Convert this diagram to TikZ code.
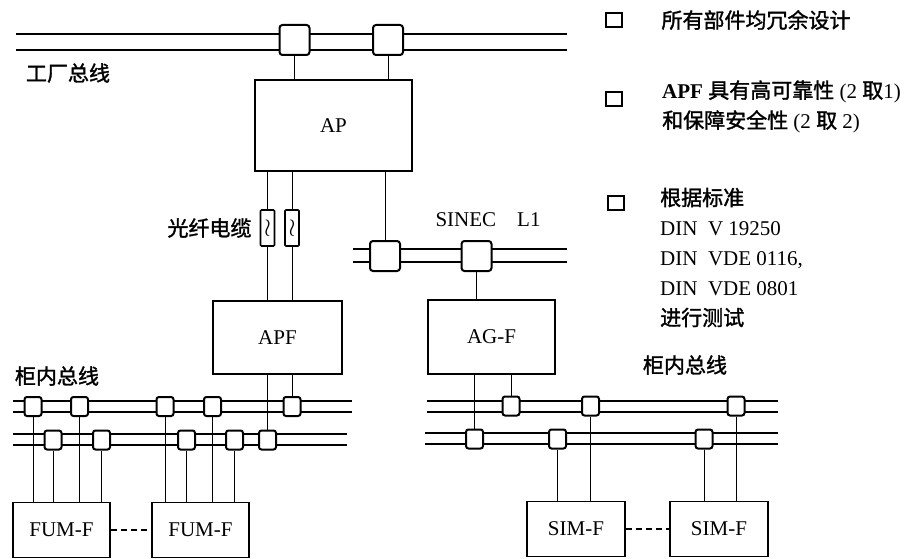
\documentclass[tikz,border=0pt]{standalone}
\usepackage{fontspec}
\setmainfont{Liberation Serif}
\newfontfamily\cjk[AutoFakeBold=1.5]{Noto Sans CJK SC}
\usepackage{xcolor}
\usepackage{tikz}
\usetikzlibrary{positioning,backgrounds,calc}
\newcommand{\zh}[1]{{\cjk\bfseries #1}}

\begin{document}
\begin{tikzpicture}[
  x=1pt, y=-1pt,
  every node/.style={font=\fontsize{21}{25}\selectfont, inner sep=0pt},
  unit/.style={draw, line width=1.7pt, fill=white, minimum width=97pt, minimum height=55pt, align=center},
  coupler/.style={draw, line width=2pt, fill=white, rounded corners=3pt, minimum width=30pt, minimum height=30pt},
  tap/.style={draw, line width=2pt, fill=white, rounded corners=2.5pt, minimum width=17pt, minimum height=19pt},
  fibre/.style={draw, line width=1.6pt, fill=white, rounded corners=1pt, minimum width=14pt, minimum height=36pt, font=\fontsize{24}{24}\selectfont},
  checkbox/.style={draw, line width=2.6pt, minimum width=16pt, minimum height=14pt},
  note/.style={anchor=west, align=left, font=\fontsize{21}{30}\selectfont},
  bus/.style={line width=2pt},
  link/.style={line width=1pt},
  dashlink/.style={line width=1.2pt, dash pattern=on 6pt off 4pt}
]
\useasboundingbox (0,0) rectangle (919,559);

\coordinate (pb-w) at (16,42);
\coordinate (pb-e) at (567,42);
\coordinate (sn-w) at (353,255.5);
\coordinate (sn-e) at (567,255.5);
\coordinate (lu-w) at (13,406.5);
\coordinate (lu-e) at (352,406.5);
\coordinate (ll-w) at (13,439.5);
\coordinate (ll-e) at (347,439.5);
\coordinate (ru-w) at (427,406.5);
\coordinate (ru-e) at (778,406.5);
\coordinate (rl-w) at (425,438.5);
\coordinate (rl-e) at (778,438.5);

\node[coupler] (pb1) at (294.5,40) {};
\node[coupler] (pb2) at (388,40) {};
\node (plantlbl) at (68,73) {\zh{工厂总线}};

\node[unit, minimum width=157pt, minimum height=91pt] (ap) at (333.5,125.5) {AP};
\node[fibre] (f1) at (267.5,228) {$\wr$};
\node[fibre] (f2) at (292,228) {$\wr$};
\node[left=8pt of f1] (fibrelbl) {\zh{光纤电缆}};
\node[unit, minimum width=129pt, minimum height=73pt] (apf) at (277.5,337.5) {APF};

\node[coupler] (sn1) at (385,256) {};
\node[coupler] (sn2) at (476.5,256) {};
\node (sineclbl) at (488,220) {SINEC\quad L1};
\node[unit, minimum width=127pt, minimum height=74pt] (agf) at (491.5,337) {AG-F};

\node (cablbl1) at (57,376) {\zh{柜内总线}};
\node[tap] (lu1) at (33,406.5) {};
\node[tap] (lu2) at (79.5,406.5) {};
\node[tap] (lu3) at (165,406.5) {};
\node[tap] (lu4) at (212.5,406.5) {};
\node[tap] (lu5) at (292,406.5) {};
\node[tap] (ll1) at (53,440) {};
\node[tap] (ll2) at (101.5,440) {};
\node[tap] (ll3) at (186.5,440) {};
\node[tap] (ll4) at (234.5,440) {};
\node[tap] (ll5) at (267.5,440) {};
\node[unit] (fum1) at (61.5,530) {FUM-F};
\node[unit] (fum2) at (200.5,530) {FUM-F};

\node (cablbl2) at (685,365) {\zh{柜内总线}};
\node[tap] (ru1) at (511,406) {};
\node[tap] (ru2) at (590.5,406) {};
\node[tap] (ru3) at (736,406) {};
\node[tap] (rl1) at (474.5,439) {};
\node[tap] (rl2) at (557.5,439) {};
\node[tap] (rl3) at (704,439) {};
\node[unit, minimum width=98pt] (sim1) at (576,529) {SIM-F};
\node[unit, minimum width=98pt] (sim2) at (719,529) {SIM-F};

\node[checkbox] (n1) at (614,20) {};
\node[note, right=38pt of n1] (t1) {\zh{所有部件均冗余设计}};
\node[checkbox] (n2) at (614,99) {};
\node[note] (t2) at (662,106.5) {\textbf{APF} \zh{具有高可靠性} (2 \zh{取}1)\\\zh{和保障安全性} (2 \zh{取} 2)};
\node[checkbox] (n3) at (616,203) {};
\node[note] (t3) at (660,257.5) {\zh{根据标准}\\DIN\ \ V 19250\\DIN\ \ VDE 0116,\\DIN\ \ VDE 0801\\\zh{进行测试}};

\begin{scope}[on background layer]
\draw[bus] ([yshift=8pt]pb-w) -- ([yshift=8pt]pb-e);
\draw[bus] ([yshift=-8pt]pb-w) -- ([yshift=-8pt]pb-e);
\draw[bus] ([yshift=6.5pt]sn-w) -- ([yshift=6.5pt]sn-e);
\draw[bus] ([yshift=-6.5pt]sn-w) -- ([yshift=-6.5pt]sn-e);
\draw[bus] ([yshift=5.5pt]lu-w) -- ([yshift=5.5pt]lu-e);
\draw[bus] ([yshift=-5.5pt]lu-w) -- ([yshift=-5.5pt]lu-e);
\draw[bus] ([yshift=5.5pt]ll-w) -- ([yshift=5.5pt]ll-e);
\draw[bus] ([yshift=-5.5pt]ll-w) -- ([yshift=-5.5pt]ll-e);
\draw[bus] ([yshift=5.5pt]ru-w) -- ([yshift=5.5pt]ru-e);
\draw[bus] ([yshift=-5.5pt]ru-w) -- ([yshift=-5.5pt]ru-e);
\draw[bus] ([yshift=5.5pt]rl-w) -- ([yshift=5.5pt]rl-e);
\draw[bus] ([yshift=-5.5pt]rl-w) -- ([yshift=-5.5pt]rl-e);

\draw[link] (pb1) -- (pb1 |- ap.north);
\draw[link] (pb2) -- (pb2 |- ap.north);
\draw[link] (f1 |- ap.south) -- (f1 |- apf.north);
\draw[link] (f2 |- ap.south) -- (f2 |- apf.north);
\draw[link] (sn1 |- ap.south) -- (sn1);
\draw[link] (sn2) -- (sn2 |- agf.north);

\draw[link] (lu5) -- (lu5 |- apf.south);
\draw[link] (ll5) -- (ll5 |- apf.south);
\draw[link] (lu1) -- (lu1 |- fum1.north);
\draw[link] (ll1) -- (ll1 |- fum1.north);
\draw[link] (lu2) -- (lu2 |- fum1.north);
\draw[link] (ll2) -- (ll2 |- fum1.north);
\draw[link] (lu3) -- (lu3 |- fum2.north);
\draw[link] (ll3) -- (ll3 |- fum2.north);
\draw[link] (lu4) -- (lu4 |- fum2.north);
\draw[link] (ll4) -- (ll4 |- fum2.north);
\draw[dashlink] (fum1) -- (fum2);

\draw[link] (rl1) -- (rl1 |- agf.south);
\draw[link] (ru1) -- (ru1 |- agf.south);
\draw[link] (rl2) -- (rl2 |- sim1.north);
\draw[link] (ru2) -- (ru2 |- sim1.north);
\draw[link] (rl3) -- (rl3 |- sim2.north);
\draw[link] (ru3) -- (ru3 |- sim2.north);
\draw[dashlink] (sim1) -- (sim2);
\end{scope}
\end{tikzpicture}
\end{document}
